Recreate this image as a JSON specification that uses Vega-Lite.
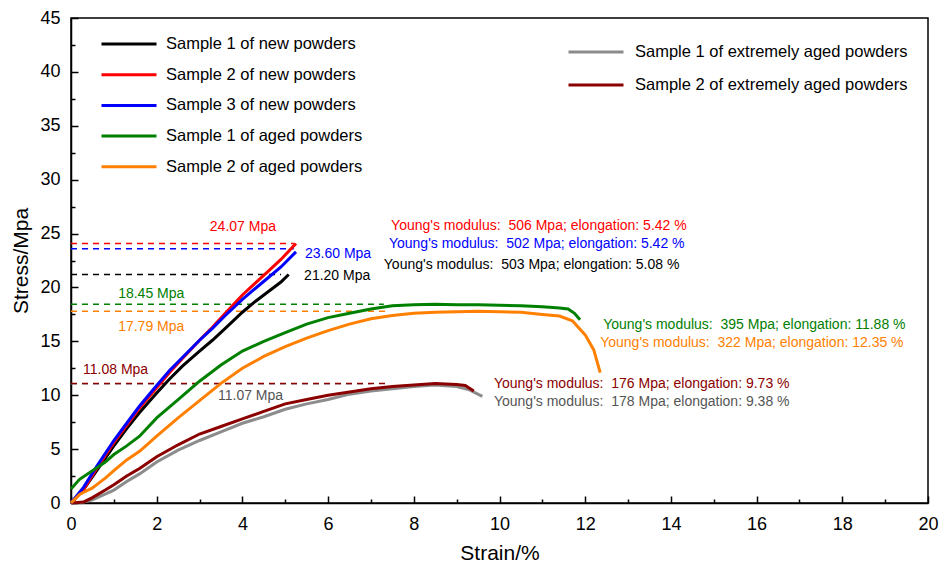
{
  "$schema": "https://vega.github.io/schema/vega-lite/v6.json",
  "width": 857,
  "height": 485,
  "autosize": "none",
  "padding": {"left": 71, "top": 18, "right": 13, "bottom": 66},
  "background": "white",
  "config": {
    "font": "Liberation Sans",
    "view": {"stroke": "black", "strokeWidth": 1.5},
    "axis": {
      "grid": false,
      "domainColor": "black",
      "domainWidth": 1.5,
      "tickColor": "black",
      "tickWidth": 1.5,
      "labelColor": "black",
      "labelFontSize": 18,
      "labelOverlap": false,
      "labelFlush": false,
      "titleColor": "black",
      "titleFontSize": 21,
      "titleFontWeight": "normal"
    },
    "legend": {
      "orient": "none",
      "title": null,
      "padding": 0,
      "symbolType": "stroke",
      "symbolStrokeWidth": 3,
      "symbolSize": 3025,
      "clipHeight": 18,
      "labelFontSize": 16.5,
      "labelLimit": 400,
      "labelColor": "black"
    },
    "text": {"fontSize": 14, "align": "left", "baseline": "middle"}
  },
  "datasets": {
    "curves": [
      {"sample": "Sample 1 of new powders", "strain": 0, "stress": 0},
      {"sample": "Sample 1 of new powders", "strain": 0.3, "stress": 1.3},
      {"sample": "Sample 1 of new powders", "strain": 0.6, "stress": 3.0},
      {"sample": "Sample 1 of new powders", "strain": 1.0, "stress": 5.3},
      {"sample": "Sample 1 of new powders", "strain": 1.3, "stress": 6.9},
      {"sample": "Sample 1 of new powders", "strain": 1.6, "stress": 8.4},
      {"sample": "Sample 1 of new powders", "strain": 2.0, "stress": 10.2},
      {"sample": "Sample 1 of new powders", "strain": 2.3, "stress": 11.5},
      {"sample": "Sample 1 of new powders", "strain": 2.6, "stress": 12.7},
      {"sample": "Sample 1 of new powders", "strain": 3.0, "stress": 14.1},
      {"sample": "Sample 1 of new powders", "strain": 3.3, "stress": 15.1},
      {"sample": "Sample 1 of new powders", "strain": 3.6, "stress": 16.2},
      {"sample": "Sample 1 of new powders", "strain": 4.0, "stress": 17.7},
      {"sample": "Sample 1 of new powders", "strain": 4.3, "stress": 18.7},
      {"sample": "Sample 1 of new powders", "strain": 4.6, "stress": 19.6},
      {"sample": "Sample 1 of new powders", "strain": 4.9, "stress": 20.5},
      {"sample": "Sample 1 of new powders", "strain": 5.08, "stress": 21.2},

      {"sample": "Sample 2 of new powders", "strain": 0, "stress": 0},
      {"sample": "Sample 2 of new powders", "strain": 0.3, "stress": 1.3},
      {"sample": "Sample 2 of new powders", "strain": 0.6, "stress": 3.2},
      {"sample": "Sample 2 of new powders", "strain": 1.0, "stress": 5.6},
      {"sample": "Sample 2 of new powders", "strain": 1.3, "stress": 7.2},
      {"sample": "Sample 2 of new powders", "strain": 1.6, "stress": 8.8},
      {"sample": "Sample 2 of new powders", "strain": 2.0, "stress": 10.7},
      {"sample": "Sample 2 of new powders", "strain": 2.3, "stress": 12.1},
      {"sample": "Sample 2 of new powders", "strain": 2.6, "stress": 13.4},
      {"sample": "Sample 2 of new powders", "strain": 3.0, "stress": 15.1},
      {"sample": "Sample 2 of new powders", "strain": 3.3, "stress": 16.3},
      {"sample": "Sample 2 of new powders", "strain": 3.6, "stress": 17.6},
      {"sample": "Sample 2 of new powders", "strain": 4.0, "stress": 19.3},
      {"sample": "Sample 2 of new powders", "strain": 4.3, "stress": 20.4},
      {"sample": "Sample 2 of new powders", "strain": 4.6, "stress": 21.5},
      {"sample": "Sample 2 of new powders", "strain": 4.9, "stress": 22.6},
      {"sample": "Sample 2 of new powders", "strain": 5.25, "stress": 24.07},

      {"sample": "Sample 3 of new powders", "strain": 0, "stress": 0},
      {"sample": "Sample 3 of new powders", "strain": 0.3, "stress": 1.5},
      {"sample": "Sample 3 of new powders", "strain": 0.6, "stress": 3.4},
      {"sample": "Sample 3 of new powders", "strain": 1.0, "stress": 5.8},
      {"sample": "Sample 3 of new powders", "strain": 1.3, "stress": 7.4},
      {"sample": "Sample 3 of new powders", "strain": 1.6, "stress": 9.0},
      {"sample": "Sample 3 of new powders", "strain": 2.0, "stress": 10.9},
      {"sample": "Sample 3 of new powders", "strain": 2.3, "stress": 12.3},
      {"sample": "Sample 3 of new powders", "strain": 2.6, "stress": 13.5},
      {"sample": "Sample 3 of new powders", "strain": 3.0, "stress": 15.1},
      {"sample": "Sample 3 of new powders", "strain": 3.3, "stress": 16.2},
      {"sample": "Sample 3 of new powders", "strain": 3.6, "stress": 17.4},
      {"sample": "Sample 3 of new powders", "strain": 4.0, "stress": 18.9},
      {"sample": "Sample 3 of new powders", "strain": 4.3, "stress": 19.9},
      {"sample": "Sample 3 of new powders", "strain": 4.6, "stress": 20.9},
      {"sample": "Sample 3 of new powders", "strain": 4.9, "stress": 21.9},
      {"sample": "Sample 3 of new powders", "strain": 5.25, "stress": 23.3},

      {"sample": "Sample 1 of aged powders", "strain": 0, "stress": 1.3},
      {"sample": "Sample 1 of aged powders", "strain": 0.2, "stress": 2.2},
      {"sample": "Sample 1 of aged powders", "strain": 0.5, "stress": 3.0},
      {"sample": "Sample 1 of aged powders", "strain": 0.8, "stress": 3.8},
      {"sample": "Sample 1 of aged powders", "strain": 1.0, "stress": 4.5},
      {"sample": "Sample 1 of aged powders", "strain": 1.3, "stress": 5.3},
      {"sample": "Sample 1 of aged powders", "strain": 1.6, "stress": 6.2},
      {"sample": "Sample 1 of aged powders", "strain": 2.0, "stress": 7.9},
      {"sample": "Sample 1 of aged powders", "strain": 2.5, "stress": 9.6},
      {"sample": "Sample 1 of aged powders", "strain": 3.0, "stress": 11.3},
      {"sample": "Sample 1 of aged powders", "strain": 3.5, "stress": 12.8},
      {"sample": "Sample 1 of aged powders", "strain": 4.0, "stress": 14.1},
      {"sample": "Sample 1 of aged powders", "strain": 4.5, "stress": 15.0},
      {"sample": "Sample 1 of aged powders", "strain": 5.0, "stress": 15.8},
      {"sample": "Sample 1 of aged powders", "strain": 5.5, "stress": 16.6},
      {"sample": "Sample 1 of aged powders", "strain": 6.0, "stress": 17.2},
      {"sample": "Sample 1 of aged powders", "strain": 6.5, "stress": 17.6},
      {"sample": "Sample 1 of aged powders", "strain": 7.0, "stress": 18.0},
      {"sample": "Sample 1 of aged powders", "strain": 7.5, "stress": 18.3},
      {"sample": "Sample 1 of aged powders", "strain": 8.0, "stress": 18.4},
      {"sample": "Sample 1 of aged powders", "strain": 8.5, "stress": 18.45},
      {"sample": "Sample 1 of aged powders", "strain": 9.0, "stress": 18.4},
      {"sample": "Sample 1 of aged powders", "strain": 9.5, "stress": 18.4},
      {"sample": "Sample 1 of aged powders", "strain": 10.0, "stress": 18.35},
      {"sample": "Sample 1 of aged powders", "strain": 10.5, "stress": 18.3},
      {"sample": "Sample 1 of aged powders", "strain": 11.0, "stress": 18.2},
      {"sample": "Sample 1 of aged powders", "strain": 11.4, "stress": 18.1},
      {"sample": "Sample 1 of aged powders", "strain": 11.6, "stress": 18.0},
      {"sample": "Sample 1 of aged powders", "strain": 11.75, "stress": 17.6},
      {"sample": "Sample 1 of aged powders", "strain": 11.88, "stress": 17.0},

      {"sample": "Sample 2 of aged powders", "strain": 0, "stress": 0},
      {"sample": "Sample 2 of aged powders", "strain": 0.2, "stress": 0.8},
      {"sample": "Sample 2 of aged powders", "strain": 0.5, "stress": 1.4},
      {"sample": "Sample 2 of aged powders", "strain": 0.8, "stress": 2.3},
      {"sample": "Sample 2 of aged powders", "strain": 1.0, "stress": 3.0},
      {"sample": "Sample 2 of aged powders", "strain": 1.3, "stress": 4.0},
      {"sample": "Sample 2 of aged powders", "strain": 1.6, "stress": 4.8},
      {"sample": "Sample 2 of aged powders", "strain": 2.0, "stress": 6.2},
      {"sample": "Sample 2 of aged powders", "strain": 2.5, "stress": 7.9},
      {"sample": "Sample 2 of aged powders", "strain": 3.0, "stress": 9.5},
      {"sample": "Sample 2 of aged powders", "strain": 3.5, "stress": 11.1},
      {"sample": "Sample 2 of aged powders", "strain": 4.0, "stress": 12.5},
      {"sample": "Sample 2 of aged powders", "strain": 4.5, "stress": 13.6},
      {"sample": "Sample 2 of aged powders", "strain": 5.0, "stress": 14.5},
      {"sample": "Sample 2 of aged powders", "strain": 5.5, "stress": 15.3},
      {"sample": "Sample 2 of aged powders", "strain": 6.0, "stress": 16.0},
      {"sample": "Sample 2 of aged powders", "strain": 6.5, "stress": 16.6},
      {"sample": "Sample 2 of aged powders", "strain": 7.0, "stress": 17.1},
      {"sample": "Sample 2 of aged powders", "strain": 7.5, "stress": 17.4},
      {"sample": "Sample 2 of aged powders", "strain": 8.0, "stress": 17.6},
      {"sample": "Sample 2 of aged powders", "strain": 8.5, "stress": 17.7},
      {"sample": "Sample 2 of aged powders", "strain": 9.0, "stress": 17.75},
      {"sample": "Sample 2 of aged powders", "strain": 9.5, "stress": 17.79},
      {"sample": "Sample 2 of aged powders", "strain": 10.0, "stress": 17.75},
      {"sample": "Sample 2 of aged powders", "strain": 10.5, "stress": 17.7},
      {"sample": "Sample 2 of aged powders", "strain": 11.0, "stress": 17.5},
      {"sample": "Sample 2 of aged powders", "strain": 11.4, "stress": 17.35},
      {"sample": "Sample 2 of aged powders", "strain": 11.7, "stress": 16.9},
      {"sample": "Sample 2 of aged powders", "strain": 12.0, "stress": 15.6},
      {"sample": "Sample 2 of aged powders", "strain": 12.2, "stress": 14.2},
      {"sample": "Sample 2 of aged powders", "strain": 12.35, "stress": 12.1},

      {"sample": "Sample 1 of extremely aged powders", "strain": 0.2, "stress": 0},
      {"sample": "Sample 1 of extremely aged powders", "strain": 0.5, "stress": 0.3},
      {"sample": "Sample 1 of extremely aged powders", "strain": 1.0, "stress": 1.2},
      {"sample": "Sample 1 of extremely aged powders", "strain": 1.3, "stress": 2.0},
      {"sample": "Sample 1 of extremely aged powders", "strain": 1.6, "stress": 2.7},
      {"sample": "Sample 1 of extremely aged powders", "strain": 2.0, "stress": 3.8},
      {"sample": "Sample 1 of extremely aged powders", "strain": 2.5, "stress": 4.9},
      {"sample": "Sample 1 of extremely aged powders", "strain": 3.0, "stress": 5.8},
      {"sample": "Sample 1 of extremely aged powders", "strain": 3.5, "stress": 6.6},
      {"sample": "Sample 1 of extremely aged powders", "strain": 4.0, "stress": 7.4},
      {"sample": "Sample 1 of extremely aged powders", "strain": 4.5, "stress": 8.0},
      {"sample": "Sample 1 of extremely aged powders", "strain": 5.0, "stress": 8.7},
      {"sample": "Sample 1 of extremely aged powders", "strain": 5.5, "stress": 9.2},
      {"sample": "Sample 1 of extremely aged powders", "strain": 6.0, "stress": 9.6},
      {"sample": "Sample 1 of extremely aged powders", "strain": 6.5, "stress": 10.1},
      {"sample": "Sample 1 of extremely aged powders", "strain": 7.0, "stress": 10.4},
      {"sample": "Sample 1 of extremely aged powders", "strain": 7.5, "stress": 10.6},
      {"sample": "Sample 1 of extremely aged powders", "strain": 8.0, "stress": 10.8},
      {"sample": "Sample 1 of extremely aged powders", "strain": 8.5, "stress": 10.95},
      {"sample": "Sample 1 of extremely aged powders", "strain": 9.0, "stress": 10.8},
      {"sample": "Sample 1 of extremely aged powders", "strain": 9.3, "stress": 10.5},
      {"sample": "Sample 1 of extremely aged powders", "strain": 9.6, "stress": 9.9},

      {"sample": "Sample 2 of extremely aged powders", "strain": 0, "stress": 0},
      {"sample": "Sample 2 of extremely aged powders", "strain": 0.3, "stress": 0.1},
      {"sample": "Sample 2 of extremely aged powders", "strain": 0.5, "stress": 0.5},
      {"sample": "Sample 2 of extremely aged powders", "strain": 0.8, "stress": 1.2},
      {"sample": "Sample 2 of extremely aged powders", "strain": 1.0, "stress": 1.7},
      {"sample": "Sample 2 of extremely aged powders", "strain": 1.3, "stress": 2.5},
      {"sample": "Sample 2 of extremely aged powders", "strain": 1.6, "stress": 3.2},
      {"sample": "Sample 2 of extremely aged powders", "strain": 2.0, "stress": 4.3},
      {"sample": "Sample 2 of extremely aged powders", "strain": 2.5, "stress": 5.4},
      {"sample": "Sample 2 of extremely aged powders", "strain": 3.0, "stress": 6.4},
      {"sample": "Sample 2 of extremely aged powders", "strain": 3.5, "stress": 7.1},
      {"sample": "Sample 2 of extremely aged powders", "strain": 4.0, "stress": 7.8},
      {"sample": "Sample 2 of extremely aged powders", "strain": 4.5, "stress": 8.5},
      {"sample": "Sample 2 of extremely aged powders", "strain": 5.0, "stress": 9.2},
      {"sample": "Sample 2 of extremely aged powders", "strain": 5.5, "stress": 9.6},
      {"sample": "Sample 2 of extremely aged powders", "strain": 6.0, "stress": 10.0},
      {"sample": "Sample 2 of extremely aged powders", "strain": 6.5, "stress": 10.3},
      {"sample": "Sample 2 of extremely aged powders", "strain": 7.0, "stress": 10.6},
      {"sample": "Sample 2 of extremely aged powders", "strain": 7.5, "stress": 10.8},
      {"sample": "Sample 2 of extremely aged powders", "strain": 8.0, "stress": 10.95},
      {"sample": "Sample 2 of extremely aged powders", "strain": 8.5, "stress": 11.08},
      {"sample": "Sample 2 of extremely aged powders", "strain": 9.0, "stress": 11.0},
      {"sample": "Sample 2 of extremely aged powders", "strain": 9.2, "stress": 10.9},
      {"sample": "Sample 2 of extremely aged powders", "strain": 9.4, "stress": 10.4}
    ],
    "peaks": [
      {"sample": "Sample 1 of new powders", "from": 0, "to": 4.9, "peak": 21.2},
      {"sample": "Sample 2 of new powders", "from": 0, "to": 5.2, "peak": 24.07},
      {"sample": "Sample 3 of new powders", "from": 0, "to": 5.2, "peak": 23.6},
      {"sample": "Sample 1 of aged powders", "from": 0, "to": 7.3, "peak": 18.45},
      {"sample": "Sample 2 of aged powders", "from": 0, "to": 7.4, "peak": 17.79},
      {"sample": "Sample 1 of extremely aged powders", "from": 0, "to": 7.0, "peak": 11.07},
      {"sample": "Sample 2 of extremely aged powders", "from": 0, "to": 7.4, "peak": 11.08}
    ],
    "notes": [
      {"sample": "Sample 2 of new powders", "strain": 3.24, "stress": 25.6, "note": "24.07 Mpa"},
      {"sample": "Sample 3 of new powders", "strain": 5.46, "stress": 23.1, "note": "23.60 Mpa"},
      {"sample": "Sample 1 of new powders", "strain": 5.44, "stress": 21.06, "note": "21.20 Mpa"},
      {"sample": "Sample 1 of aged powders", "strain": 1.1, "stress": 19.39, "note": "18.45 Mpa"},
      {"sample": "Sample 2 of aged powders", "strain": 1.1, "stress": 16.33, "note": "17.79 Mpa"},
      {"sample": "Sample 2 of extremely aged powders", "strain": 0.28, "stress": 12.34, "note": "11.08 Mpa"},
      {"sample": "Sample 1 of extremely aged powders", "strain": 3.43, "stress": 9.93, "note": "11.07 Mpa"},
      {"sample": "Sample 2 of new powders", "strain": 7.47, "stress": 25.7, "note": "Young's modulus: \u00a0506 Mpa; elongation: 5.42 %"},
      {"sample": "Sample 3 of new powders", "strain": 7.42, "stress": 24.03, "note": "Young's modulus: \u00a0502 Mpa; elongation: 5.42 %"},
      {"sample": "Sample 1 of new powders", "strain": 7.3, "stress": 22.08, "note": "Young's modulus: \u00a0503 Mpa; elongation: 5.08 %"},
      {"sample": "Sample 1 of aged powders", "strain": 12.42, "stress": 16.51, "note": "Young's modulus: \u00a0395 Mpa; elongation: 11.88 %"},
      {"sample": "Sample 2 of aged powders", "strain": 12.35, "stress": 14.84, "note": "Young's modulus: \u00a0322 Mpa; elongation: 12.35 %"},
      {"sample": "Sample 2 of extremely aged powders", "strain": 9.87, "stress": 11.04, "note": "Young's modulus: \u00a0176 Mpa; elongation: 9.73 %"},
      {"sample": "Sample 1 of extremely aged powders", "strain": 9.87, "stress": 9.37, "note": "Young's modulus: \u00a0178 Mpa; elongation: 9.38 %"}
    ]
  },
  "encoding": {
    "x": {
      "field": "strain",
      "type": "quantitative",
      "scale": {"domain": [0, 20], "nice": false},
      "axis": {
        "title": "Strain/%",
        "values": [0, 1, 2, 3, 4, 5, 6, 7, 8, 9, 10, 11, 12, 13, 14, 15, 16, 17, 18, 19, 20],
        "labelExpr": "datum.value % 2 === 0 ? datum.label : ''",
        "tickSize": {"condition": {"test": "datum.value % 2 === 0", "value": -7}, "value": -4},
        "labelPadding": 19,
        "titlePadding": 6
      }
    },
    "y": {
      "field": "stress",
      "type": "quantitative",
      "scale": {"domain": [0, 45], "nice": false},
      "axis": {
        "title": "Stress/Mpa",
        "values": [0, 2.5, 5, 7.5, 10, 12.5, 15, 17.5, 20, 22.5, 25, 27.5, 30, 32.5, 35, 37.5, 40, 42.5, 45],
        "labelExpr": "datum.value % 5 === 0 ? datum.label : ''",
        "tickSize": {"condition": {"test": "datum.value % 5 === 0", "value": -7}, "value": -4},
        "labelPadding": 18,
        "titlePadding": 8
      }
    }
  },
  "layer": [
    {
      "layer": [
        {
          "data": {"name": "peaks"},
          "transform": [{"filter": {"field": "sample", "oneOf": ["Sample 1 of extremely aged powders", "Sample 2 of extremely aged powders"]}}],
          "mark": {"type": "rule", "strokeDash": [6, 5], "strokeWidth": 1.5},
          "encoding": {
            "x": {"field": "from", "type": "quantitative"},
            "x2": {"field": "to"},
            "y": {"field": "peak", "type": "quantitative"},
            "color": {"field": "sample", "type": "nominal"}
          }
        },
        {
          "data": {"name": "curves"},
          "transform": [{"filter": {"field": "sample", "oneOf": ["Sample 1 of extremely aged powders", "Sample 2 of extremely aged powders"]}}],
          "mark": {"type": "line", "strokeWidth": 3},
          "encoding": {
            "order": {"field": "strain"},
            "color": {
              "field": "sample",
              "type": "nominal",
              "scale": {"domain": ["Sample 1 of extremely aged powders", "Sample 2 of extremely aged powders"], "range": ["#8c8c8c", "#8b0000"]},
              "legend": {"legendX": 496, "legendY": 25, "rowPadding": 15, "labelOffset": 10}
            }
          }
        },
        {
          "data": {"name": "notes"},
          "transform": [{"filter": {"field": "sample", "oneOf": ["Sample 1 of extremely aged powders", "Sample 2 of extremely aged powders"]}}],
          "mark": {"type": "text"},
          "encoding": {
            "text": {"field": "note"},
            "color": {
              "condition": {"test": "datum.sample === 'Sample 1 of extremely aged powders'", "value": "#555555"},
              "field": "sample",
              "type": "nominal"
            }
          }
        }
      ]
    },
    {
      "layer": [
        {
          "data": {"name": "peaks"},
          "transform": [{"filter": {"field": "sample", "oneOf": ["Sample 1 of new powders", "Sample 2 of new powders", "Sample 3 of new powders", "Sample 1 of aged powders", "Sample 2 of aged powders"]}}],
          "mark": {"type": "rule", "strokeDash": [6, 5], "strokeWidth": 1.5},
          "encoding": {
            "x": {"field": "from", "type": "quantitative"},
            "x2": {"field": "to"},
            "y": {"field": "peak", "type": "quantitative"},
            "color": {"field": "sample", "type": "nominal"}
          }
        },
        {
          "data": {"name": "curves"},
          "transform": [{"filter": {"field": "sample", "oneOf": ["Sample 1 of new powders", "Sample 2 of new powders", "Sample 3 of new powders", "Sample 1 of aged powders", "Sample 2 of aged powders"]}}],
          "mark": {"type": "line", "strokeWidth": 3},
          "encoding": {
            "order": {"field": "strain"},
            "color": {
              "field": "sample",
              "type": "nominal",
              "scale": {
                "domain": ["Sample 1 of new powders", "Sample 2 of new powders", "Sample 3 of new powders", "Sample 1 of aged powders", "Sample 2 of aged powders"],
                "range": ["#000000", "#ff0000", "#0000ff", "#008000", "#ff8000"]
              },
              "legend": {"legendX": 29, "legendY": 17, "rowPadding": 12.7, "labelOffset": 8}
            }
          }
        },
        {
          "data": {"name": "notes"},
          "transform": [{"filter": {"field": "sample", "oneOf": ["Sample 1 of new powders", "Sample 2 of new powders", "Sample 3 of new powders", "Sample 1 of aged powders", "Sample 2 of aged powders"]}}],
          "mark": {"type": "text"},
          "encoding": {
            "text": {"field": "note"},
            "color": {"field": "sample", "type": "nominal"}
          }
        }
      ]
    }
  ],
  "resolve": {"scale": {"color": "independent"}}
}
